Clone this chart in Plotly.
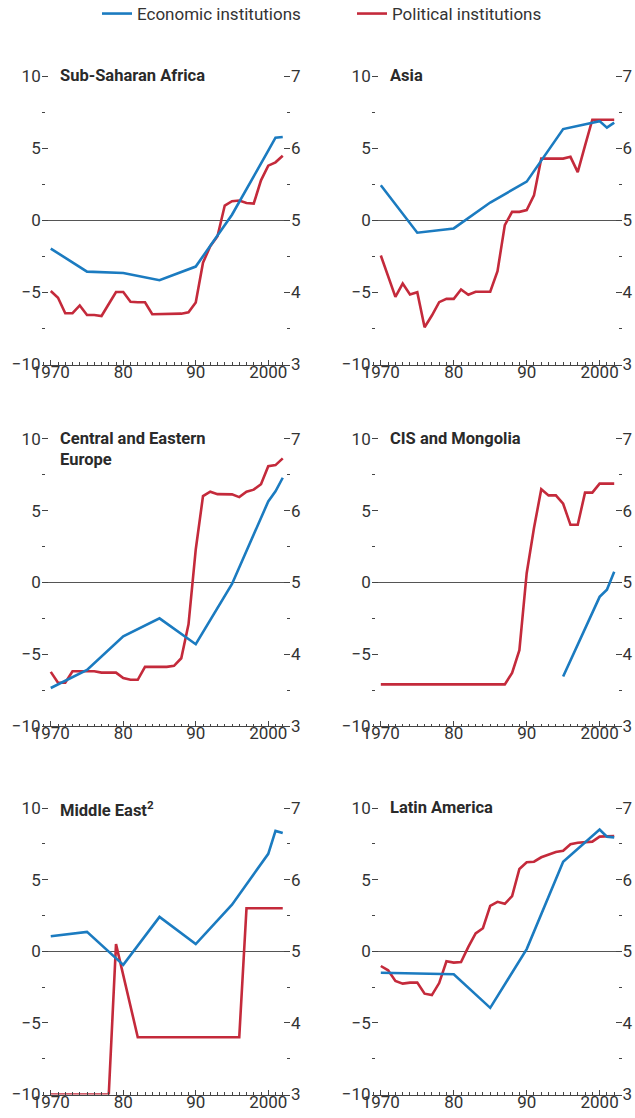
import plotly.graph_objects as go

# ---------------- data ----------------
years_pol = list(range(1970, 2003))
years_eco = [1970, 1975, 1980, 1985, 1990, 1995, 2000, 2001, 2002]
years_eco_cis = [1995, 2000, 2001, 2002]

panel_titles = ["Sub-Saharan Africa", "Asia", "Central and Eastern<br>Europe",
                "CIS and Mongolia", "Middle East<sup>2</sup>", "Latin America"]

# Political institutions (left scale, -10 to 10)
pol_ssa = [-4.9, -5.36, -6.44, -6.44, -5.9, -6.56, -6.56, -6.63, -5.8, -4.97,
           -4.97, -5.64, -5.68, -5.68, -6.51, -6.51, -6.47, -6.47, -6.47, -6.37,
           -5.7, -2.93, -1.78, -1.09, 1.04, 1.34, 1.39, 1.22, 1.18, 2.79,
           3.81, 4.04, 4.5]
pol_asia = [-2.43, -3.87, -5.3, -4.38, -5.14, -4.98, -7.41, -6.6, -5.67, -5.44,
            -5.44, -4.79, -5.16, -4.95, -4.95, -4.95, -3.52, -0.32, 0.6, 0.6,
            0.72, 1.74, 4.3, 4.3, 4.3, 4.3, 4.42, 3.36, 5.2, 7.0,
            7.0, 7.0, 7.0]
pol_cee = [-6.23, -6.99, -6.99, -6.18, -6.18, -6.18, -6.18, -6.28, -6.28, -6.28,
           -6.66, -6.78, -6.78, -5.88, -5.88, -5.88, -5.88, -5.81, -5.28, -2.91,
           2.3, 6.02, 6.33, 6.16, 6.16, 6.14, 5.95, 6.33, 6.47, 6.85,
           8.1, 8.18, 8.65]
pol_cis = [-7.1, -7.1, -7.1, -7.1, -7.1, -7.1, -7.1, -7.1, -7.1, -7.1,
           -7.1, -7.1, -7.1, -7.1, -7.1, -7.1, -7.1, -7.1, -6.3, -4.72,
           0.65, 3.8, 6.5, 6.07, 6.07, 5.49, 4.02, 4.02, 6.26, 6.26,
           6.89, 6.89, 6.89]
pol_me = [-10, -10, -10, -10, -10, -10, -10, -10, -10, 0.5,
          -1.67, -3.83, -6.0, -6.0, -6.0, -6.0, -6.0, -6.0, -6.0, -6.0,
          -6.0, -6.0, -6.0, -6.0, -6.0, -6.0, -6.0, 3.0, 3.0, 3.0,
          3.0, 3.0, 3.0]
pol_la = [-1.03, -1.33, -2.08, -2.26, -2.19, -2.19, -2.96, -3.06, -2.22, -0.7,
          -0.79, -0.75, 0.3, 1.24, 1.61, 3.17, 3.45, 3.31, 3.85, 5.74,
          6.21, 6.25, 6.56, 6.72, 6.93, 7.02, 7.47, 7.58, 7.61, 7.65,
          8.0, 8.05, 8.05]

# Economic institutions (right scale, 3 to 7)
eco_ssa = [4.61, 4.29, 4.27, 4.17, 4.36, 5.08, 5.97, 6.15, 6.16]
eco_asia = [5.49, 4.83, 4.89, 5.25, 5.54, 6.27, 6.38, 6.29, 6.36]
eco_cee = [3.53, 3.78, 4.25, 4.50, 4.14, 4.98, 6.13, 6.27, 6.46]
eco_cis = [3.69, 4.80, 4.90, 5.15]
eco_me = [5.21, 5.27, 4.81, 5.48, 5.10, 5.65, 6.36, 6.68, 6.65]
eco_la = [4.70, 4.69, 4.68, 4.21, 5.03, 6.25, 6.70, 6.60, 6.59]

pol_series = [pol_ssa, pol_asia, pol_cee, pol_cis, pol_me, pol_la]
eco_series = [eco_ssa, eco_asia, eco_cee, eco_cis, eco_me, eco_la]
eco_years = [years_eco, years_eco, years_eco, years_eco_cis, years_eco, years_eco]

x_tickvals = [1970, 1980, 1990, 2000]
x_ticktext = ["1970", "80", "90", "2000"]
left_tickvals = [-10, -5, 0, 5, 10]
right_tickvals = [3, 4, 5, 6, 7]

# ---------------- style ----------------
BLUE = "#1b7bc0"
RED = "#c42a3b"
TXT = "#333333"
AX = "#444444"
FONT = "Roboto, sans-serif"
W, H = 635, 1118

col_px = [(41.7, 290.0), (371.7, 621.5)]
row_px = [(76.5, 364.5), (439.0, 726.0), (808.0, 1094.5)]
TOP_PAD = 0.15  # small headroom above 10 (left) / 7 (right) so the top tick stays visible

fig = go.Figure()
layout = dict(
    width=W, height=H, autosize=False,
    margin=dict(l=0, r=0, t=0, b=0, pad=0, autoexpand=False),
    paper_bgcolor="white", plot_bgcolor="white",
    font=dict(family=FONT, size=17, color=TXT),
    showlegend=True,
    legend=dict(orientation="h", x=97 / W, xanchor="left", y=1 - 14 / H, yanchor="middle",
                font=dict(family=FONT, size=17, color=TXT),
                bgcolor="rgba(0,0,0,0)", borderwidth=0,
                entrywidth=210, entrywidthmode="pixels", traceorder="normal"),
)

annotations = []
for i in range(6):
    n = i + 1
    r, c = divmod(i, 2)
    x0, x1 = col_px[c]
    ytop, ybot = row_px[r]
    px_per_unit = (ybot - ytop) / 20.0
    ytop_ext = ytop - TOP_PAD * px_per_unit
    xd = [x0 / W, x1 / W]
    yd = [1 - ybot / H, 1 - ytop_ext / H]
    xa = "x" if n == 1 else f"x{n}"
    ya = "y" if n == 1 else f"y{n}"
    ya2 = f"y{n + 6}"

    layout[f"xaxis{n}" if n > 1 else "xaxis"] = dict(
        domain=xd, anchor=ya, range=[1968.75, 2003.0],
        tickvals=x_tickvals, ticktext=x_ticktext,
        ticks="inside", ticklen=5, tickwidth=1, tickcolor=AX,
        minor=dict(dtick=1, ticks="inside", ticklen=2.5, tickwidth=1, tickcolor=AX, showgrid=False),
        showline=True, linecolor=AX, linewidth=1,
        showgrid=False, zeroline=False, fixedrange=True, automargin=False,
        tickfont=dict(family=FONT, size=17, color=TXT), ticklabelstandoff=-8,
    )
    layout[f"yaxis{n}" if n > 1 else "yaxis"] = dict(
        domain=yd, anchor=xa, range=[-10, 10 + TOP_PAD],
        tickvals=left_tickvals, ticksuffix="\u2009",
        ticks="inside", ticklen=6, tickwidth=1, tickcolor=AX,
        minor=dict(tickvals=[-7.5, -2.5, 2.5, 7.5], ticks="inside", ticklen=3, tickwidth=1,
                   tickcolor=AX, showgrid=False),
        showline=False, showgrid=False,
        zeroline=True, zerolinecolor="#555555", zerolinewidth=1,
        fixedrange=True, automargin=False,
        tickfont=dict(family=FONT, size=17, color=TXT),
    )
    layout[f"yaxis{n + 6}"] = dict(
        domain=yd, anchor=xa, overlaying=ya, side="right", range=[3, 7 + TOP_PAD / 5.0],
        tickvals=right_tickvals, tickprefix="\u2009\u2009",
        ticks="inside", ticklen=6, tickwidth=1, tickcolor=AX,
        minor=dict(tickvals=[3.5, 4.5, 5.5, 6.5], ticks="inside", ticklen=3, tickwidth=1,
                   tickcolor=AX, showgrid=False),
        showline=False, showgrid=False, zeroline=False,
        fixedrange=True, automargin=False,
        tickfont=dict(family=FONT, size=17, color=TXT),
    )

    fig.add_trace(go.Scatter(
        x=eco_years[i], y=eco_series[i], mode="lines",
        line=dict(color=BLUE, width=2.6), name="Economic institutions",
        legendgroup="eco", showlegend=(i == 0), xaxis=xa, yaxis=ya2, hoverinfo="skip"))
    fig.add_trace(go.Scatter(
        x=years_pol, y=pol_series[i], mode="lines",
        line=dict(color=RED, width=2.6), name="Political institutions",
        legendgroup="pol", showlegend=(i == 0), xaxis=xa, yaxis=ya, hoverinfo="skip"))

    annotations.append(dict(
        text=f"<b>{panel_titles[i]}</b>", xref="paper", yref="paper",
        x=(x0 + 16.5) / W, y=1 - ytop / H, xanchor="left", yanchor="top", yshift=12,
        align="left", showarrow=False,
        font=dict(family=FONT, size=16.5, color="#2a2a2a")))

layout["annotations"] = annotations
fig.update_layout(**layout)
fig.write_html(
    "out.html",
    config={"displayModeBar": False, "staticPlot": True},
    post_script="document.body.style.margin='0';document.body.style.overflow='hidden';",
)
